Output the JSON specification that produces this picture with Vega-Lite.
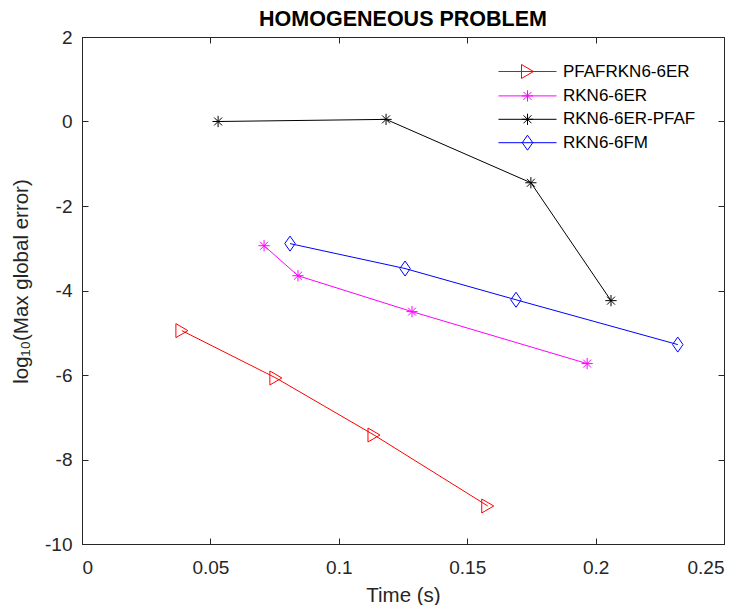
{
  "$schema": "https://vega.github.io/schema/vega-lite/v6.json",
  "width": 642,
  "height": 507,
  "autosize": {"type": "none"},
  "padding": {"left": 82, "top": 37, "right": 20, "bottom": 61},
  "background": "white",
  "title": {
    "text": "HOMOGENEOUS PROBLEM",
    "font": "Liberation Sans",
    "fontSize": 21.5,
    "fontWeight": "bold",
    "color": "#000000",
    "anchor": "middle",
    "offset": -2
  },
  "data": {
    "values": [
      {"series": "PFAFRKN6-6ER", "time": 0.0389, "err": -4.95},
      {"series": "PFAFRKN6-6ER", "time": 0.0755, "err": -6.07},
      {"series": "PFAFRKN6-6ER", "time": 0.1137, "err": -7.42},
      {"series": "PFAFRKN6-6ER", "time": 0.158, "err": -9.1},
      {"series": "RKN6-6ER", "time": 0.0709, "err": -2.94},
      {"series": "RKN6-6ER", "time": 0.0841, "err": -3.65},
      {"series": "RKN6-6ER", "time": 0.1285, "err": -4.5},
      {"series": "RKN6-6ER", "time": 0.1967, "err": -5.73},
      {"series": "RKN6-6ER-PFAF", "time": 0.053, "err": 0.0},
      {"series": "RKN6-6ER-PFAF", "time": 0.1184, "err": 0.05},
      {"series": "RKN6-6ER-PFAF", "time": 0.1748, "err": -1.45},
      {"series": "RKN6-6ER-PFAF", "time": 0.206, "err": -4.24},
      {"series": "RKN6-6FM", "time": 0.081, "err": -2.89},
      {"series": "RKN6-6FM", "time": 0.1258, "err": -3.48},
      {"series": "RKN6-6FM", "time": 0.169, "err": -4.22},
      {"series": "RKN6-6FM", "time": 0.232, "err": -5.28}
    ]
  },
  "encoding": {
    "x": {"field": "time", "type": "quantitative", "scale": {"domain": [0, 0.25], "nice": false, "zero": false}},
    "y": {"field": "err", "type": "quantitative", "scale": {"domain": [-10, 2], "nice": false, "zero": false}},
    "color": {
      "field": "series", "type": "nominal",
      "scale": {
        "domain": ["PFAFRKN6-6ER", "RKN6-6ER", "RKN6-6ER-PFAF", "RKN6-6FM"],
        "range": ["#ff0000", "#ff00ff", "#000000", "#0000ff"]
      },
      "legend": {
        "title": null,
        "orient": "none",
        "legendX": 437,
        "legendY": 26,
        "padding": 0,
        "symbolSize": 225,
        "symbolStrokeWidth": 1,
        "symbolOpacity": 1,
        "symbolFillColor": "transparent",
        "labelOffset": 27,
        "labelFont": "Liberation Sans",
        "labelFontSize": 17,
        "labelColor": "#000000",
        "rowPadding": 5.4
      }
    }
  },
  "layer": [
    {
      "mark": {"type": "line", "strokeWidth": 1},
      "encoding": {
        "x": {
          "field": "time", "type": "quantitative",
          "axis": {
            "orient": "bottom",
            "title": "Time (s)",
            "values": [0, 0.05, 0.1, 0.15, 0.2, 0.25],
            "labelExpr": "'' + datum.value",
            "tickSize": -6,
            "labelPadding": 20,
            "titlePadding": 8,
            "grid": false
          }
        },
        "y": {
          "field": "err", "type": "quantitative",
          "axis": {
            "orient": "left",
            "title": "log₁₀(Max global error)",
            "values": [-10, -8, -6, -4, -2, 0, 2],
            "labelExpr": "'' + datum.value",
            "tickSize": -6,
            "labelPadding": 16,
            "titleX": -55,
            "titleY": 244,
            "titleBaseline": "alphabetic",
            "grid": false
          }
        },
        "detail": {"field": "series"}
      }
    },
    {
      "transform": [{"filter": "datum.series === 'PFAFRKN6-6ER'"}],
      "mark": {"type": "point", "filled": false, "size": 225, "strokeWidth": 1, "opacity": 1, "shape": "M-0.8,-0.93L0.8,0L-0.8,0.93Z"},
      "encoding": {
        "x": {"field": "time", "type": "quantitative", "axis": null},
        "y": {"field": "err", "type": "quantitative", "axis": null}
      }
    },
    {
      "transform": [{"filter": "datum.series === 'RKN6-6ER' || datum.series === 'RKN6-6ER-PFAF'"}],
      "mark": {"type": "point", "filled": false, "size": 225, "strokeWidth": 1, "opacity": 1, "shape": "M-0.75,0L0.75,0M0,-0.75L0,0.75M-0.53,-0.53L0.53,0.53M-0.53,0.53L0.53,-0.53"},
      "encoding": {
        "x": {"field": "time", "type": "quantitative", "axis": null},
        "y": {"field": "err", "type": "quantitative", "axis": null}
      }
    },
    {
      "transform": [{"filter": "datum.series === 'RKN6-6FM'"}],
      "mark": {"type": "point", "filled": false, "size": 225, "strokeWidth": 1, "opacity": 1, "shape": "M0,-1L0.7,0L0,1L-0.7,0Z"},
      "encoding": {
        "x": {"field": "time", "type": "quantitative", "axis": null},
        "y": {"field": "err", "type": "quantitative", "axis": null}
      }
    },
    {
      "mark": {"type": "point", "filled": false, "size": 225, "strokeWidth": 1, "opacity": 0},
      "encoding": {
        "x": {
          "field": "time", "type": "quantitative",
          "axis": {"orient": "top", "labels": false, "title": null, "values": [0, 0.05, 0.1, 0.15, 0.2, 0.25], "tickSize": -6, "grid": false, "domain": false}
        },
        "y": {
          "field": "err", "type": "quantitative",
          "axis": {"orient": "right", "labels": false, "title": null, "values": [-10, -8, -6, -4, -2, 0, 2], "tickSize": -6, "grid": false, "domain": false}
        },
        "shape": {
          "field": "series", "type": "nominal",
          "scale": {
            "domain": ["PFAFRKN6-6ER", "RKN6-6ER", "RKN6-6ER-PFAF", "RKN6-6FM"],
            "range": [
              "M-3.87,0L3.87,0M-0.8,-0.93L0.8,0L-0.8,0.93Z",
              "M-3.87,0L3.87,0M-0.75,0L0.75,0M0,-0.75L0,0.75M-0.53,-0.53L0.53,0.53M-0.53,0.53L0.53,-0.53",
              "M-3.87,0L3.87,0M-0.75,0L0.75,0M0,-0.75L0,0.75M-0.53,-0.53L0.53,0.53M-0.53,0.53L0.53,-0.53",
              "M-3.87,0L3.87,0M0,-1L0.7,0L0,1L-0.7,0Z"
            ]
          },
          "legend": {
            "title": null,
            "orient": "none",
            "legendX": 437,
            "legendY": 26,
            "padding": 0,
            "symbolSize": 225,
            "symbolStrokeWidth": 1,
            "symbolOpacity": 1,
            "symbolFillColor": "transparent",
            "labelOffset": 27,
            "labelFont": "Liberation Sans",
            "labelFontSize": 17,
            "labelColor": "#000000",
            "rowPadding": 5.4
          }
        }
      }
    }
  ],
  "resolve": {"axis": {"x": "independent", "y": "independent"}},
  "config": {
    "view": {"stroke": "#262626", "strokeWidth": 1},
    "axis": {
      "labelFont": "Liberation Sans",
      "labelFontSize": 19,
      "labelColor": "#262626",
      "titleFont": "Liberation Sans",
      "titleFontSize": 20.5,
      "titleFontWeight": "normal",
      "titleColor": "#262626",
      "domainColor": "#262626",
      "tickColor": "#262626",
      "domainWidth": 1,
      "tickWidth": 1
    }
  }
}
